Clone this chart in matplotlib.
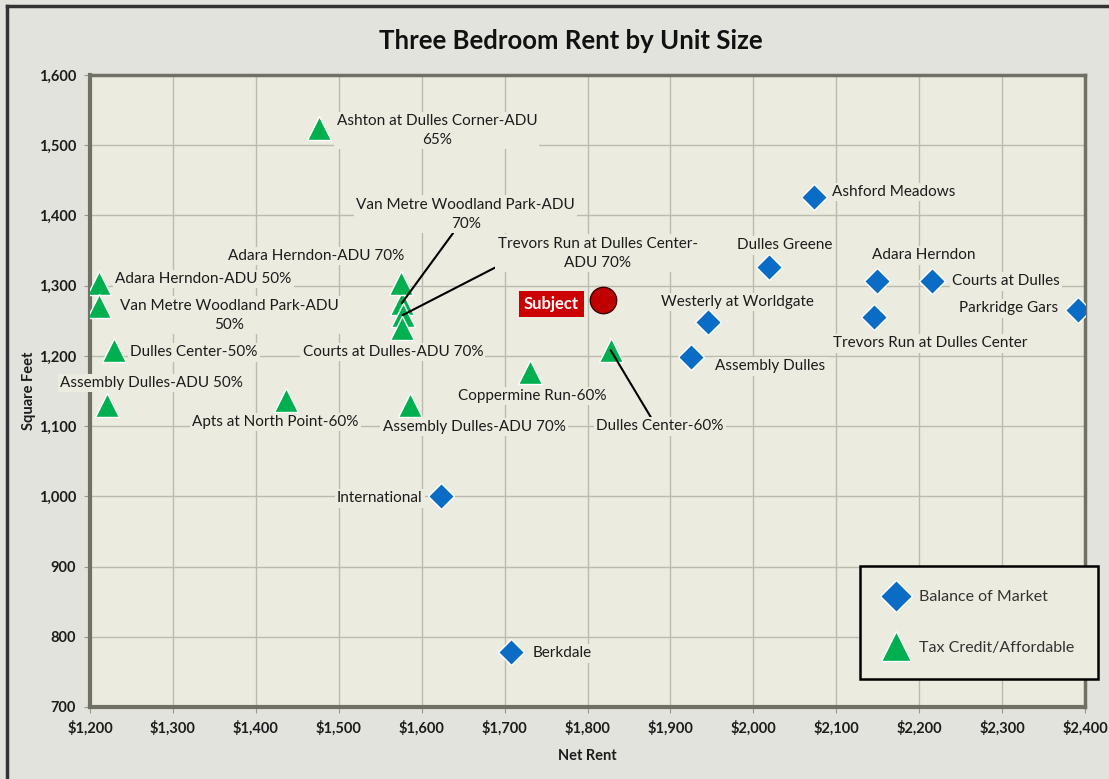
import matplotlib
matplotlib.use('Agg')
import matplotlib.pyplot as plt
from matplotlib.lines import Line2D
from matplotlib.ticker import FuncFormatter

plt.rcParams['font.family'] = ['Lato', 'DejaVu Sans']

# Balance of market comps
market_names = ["International", "Berkdale", "Ashford Meadows", "Dulles Greene",
                "Adara Herndon", "Courts at Dulles", "Parkridge Gars",
                "Trevors Run at Dulles Center", "Westerly at Worldgate",
                "Assembly Dulles"]
market_rent = [1623, 1708, 2073, 2019, 2149, 2216, 2392, 2146, 1945, 1925]
market_sqft = [1000, 778, 1426, 1326, 1306, 1306, 1265, 1255, 1248, 1198]

# Tax credit / affordable comps
afford_names = ["Ashton at Dulles Corner-ADU\n65%", "Van Metre Woodland Park-ADU\n70%",
                "Adara Herndon-ADU 70%", "Trevors Run at Dulles Center-\nADU 70%",
                "Courts at Dulles-ADU 70%", "Adara Herndon-ADU 50%",
                "Van Metre Woodland Park-ADU\n50%", "Dulles Center-50%",
                "Assembly Dulles-ADU 50%", "Apts at North Point-60%",
                "Assembly Dulles-ADU 70%", "Coppermine Run-60%", "Dulles Center-60%"]
afford_rent = [1476, 1576, 1575, 1577, 1576, 1211, 1211, 1229, 1220, 1436, 1586, 1731, 1828]
afford_sqft = [1525, 1275, 1304, 1258, 1240, 1304, 1271, 1208, 1130, 1137, 1130, 1177, 1208]

subject_rent = 1819
subject_sqft = 1280

# label offsets in pixels (dx, dy), alignment, leader line relpos
market_offsets = [(-18, -2, 'right'), (21, -1, 'left'), (18, 5, 'left'), (16, 22, 'center'),
                  (47, 26, 'center'), (20, 0, 'left'), (-20, 2, 'right'),
                  (56, -26, 'center'), (30, 20, 'center'), (24, -9, 'left')]
afford_offsets = [(118, -3, 'center', None), (64, 89, 'center', (0.45, 0.0)),
                  (-85, 27, 'center', None), (195, 62, 'center', (0.08, 0.35)),
                  (-9, -24, 'center', None), (16, 4, 'left', None),
                  (130, -9, 'center', None), (16, -2, 'left', None),
                  (45, 22, 'center', None), (-10, -22, 'center', None),
                  (64, -22, 'center', None), (2, -24, 'center', None),
                  (49, -76, 'center', (0.44, 1.0))]

fig_bg = '#e3e3dd'
ax_bg = '#ebebdf'
blue = '#0a6cc4'
green = '#00b050'
txt = '#1c1c1c'

fig = plt.figure(figsize=(11.09, 7.79), dpi=100, facecolor=fig_bg)
ax = fig.add_axes([90 / 1109, 1 - 707 / 779, 995 / 1109, 632 / 779])
ax.set_facecolor(ax_bg)

# outer frame (left and top only visible)
fig.add_artist(Line2D([7 / 1109, 7 / 1109], [0, 1 - 6 / 779], color='#333333', lw=2.5,
                      transform=fig.transFigure))
fig.add_artist(Line2D([7 / 1109, 1], [1 - 6 / 779, 1 - 6 / 779], color='#333333', lw=2.5,
                      transform=fig.transFigure))

ax.set_xlim(1200, 2400)
ax.set_ylim(700, 1600)
ax.set_xticks(range(1200, 2401, 100))
ax.set_yticks(range(700, 1601, 100))
ax.xaxis.set_major_formatter(FuncFormatter(lambda v, p: "${:,.0f}".format(v)))
ax.yaxis.set_major_formatter(FuncFormatter(lambda v, p: "{:,.0f}".format(v)))
ax.grid(True, color='#bcbcae', lw=1)
ax.set_axisbelow(True)
for lbl in ax.get_xticklabels() + ax.get_yticklabels():
    lbl.set_fontweight('bold')
    lbl.set_fontsize(10.5)
    lbl.set_color(txt)
ax.tick_params(length=4, color='#9a9a8c', pad=6)
for side in ['left', 'bottom']:
    ax.spines[side].set_color('#707064')
    ax.spines[side].set_linewidth(3)
for side in ['top', 'right']:
    ax.spines[side].set_color('#707064')
    ax.spines[side].set_linewidth(2.5)

ax.set_xlabel("Net Rent", fontweight='bold', fontsize=10.5, labelpad=9, color=txt)
ax.set_ylabel("Square Feet", fontweight='bold', fontsize=10.5, labelpad=2, color=txt)
fig.text(0.515, 1 - 41 / 779, "Three Bedroom Rent by Unit Size", ha='center', va='center',
         fontsize=18.5, fontweight='bold', color='#111111')

ax.plot(market_rent, market_sqft, 'D', color=blue, ms=13, mec='white', mew=1,
        label="Balance of Market", zorder=4)
ax.plot(afford_rent, afford_sqft, '^', color=green, ms=17, mec='white', mew=1,
        label="Tax Credit/Affordable", zorder=4)
ax.plot([subject_rent], [subject_sqft], 'o', color='#c00000', ms=19, mec='#3a0000', mew=1,
        zorder=5)

lbl_box = dict(boxstyle='square,pad=0.15', fc=ax_bg, ec='none')
for name, x, y, (dx, dy, ha) in zip(market_names, market_rent, market_sqft, market_offsets):
    ax.annotate(name, (x, y), xytext=(dx, dy), textcoords='offset pixels', ha=ha,
                va='center', fontsize=11, color=txt, bbox=lbl_box, zorder=6)

for name, x, y, (dx, dy, ha, rp) in zip(afford_names, afford_rent, afford_sqft, afford_offsets):
    arrow = None
    if rp is not None:
        arrow = dict(arrowstyle='-', color='black', lw=1.5, relpos=rp, shrinkA=0, shrinkB=0)
    ax.annotate(name, (x, y), xytext=(dx, dy), textcoords='offset pixels', ha=ha,
                va='center', fontsize=11, color=txt, bbox=lbl_box, linespacing=1.45,
                arrowprops=arrow, multialignment='center', zorder=6)

ax.annotate("Subject", (subject_rent, subject_sqft), xytext=(-52, -4),
            textcoords='offset pixels', ha='center', va='center', fontsize=12,
            fontweight='bold', color='white',
            bbox=dict(boxstyle='square,pad=0.3', fc='#cc0000', ec='none'), zorder=6)

leg = ax.legend(loc='upper right', bbox_to_anchor=(1098 / 1109, 1 - 566 / 779),
                bbox_transform=fig.transFigure, fontsize=11.5, frameon=True, fancybox=False,
                facecolor=ax_bg, edgecolor='black', borderpad=1.5, labelspacing=2.3,
                handlelength=1.6, handletextpad=0.6, markerscale=1.25, borderaxespad=0)
leg.get_frame().set_linewidth(1.8)
leg.get_frame().set_alpha(1)
for t in leg.get_texts():
    t.set_color('#333333')

fig.savefig("out.png", dpi=100, facecolor=fig_bg)
